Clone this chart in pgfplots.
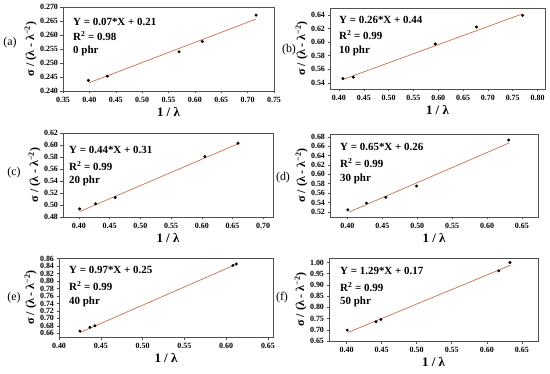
\documentclass[border=0pt]{standalone}
\usepackage{fontspec}
\setmainfont{Liberation Serif}
\usepackage{pgfplots}
\pgfplotsset{compat=1.18}
\definecolor{fitc}{RGB}{198,112,78}
\definecolor{axc}{RGB}{80,80,80}
\pgfplotsset{panel/.style={
 scale only axis, anchor=south west, enlargelimits=false,
 axis line style={axc, line width=0.6pt},
 tick align=outside, xtick pos=bottom, ytick pos=left,
 major tick length=2.5bp, tick style={axc,line width=0.5pt},
 /pgf/number format/assume math mode=true,
 tick label style={font=\fontsize{8}{9}\selectfont\bfseries},
 xticklabel style={/pgf/number format/fixed,/pgf/number format/fixed zerofill,/pgf/number format/precision=2},
 yticklabel style={/pgf/number format/fixed,/pgf/number format/fixed zerofill,/pgf/number format/precision=2, xshift=1bp},
 xlabel={1 / λ},
 ylabel={σ / (λ - λ\textsuperscript{−2})},
 xlabel style={font=\fontsize{13}{14}\selectfont\bfseries, yshift=2bp},
 ylabel style={font=\fontsize{12}{13}\selectfont\bfseries, yshift=-3.5bp},
}}
\newcommand{\annf}{\fontsize{11}{12}\selectfont\bfseries}
\newcommand{\labf}{\fontsize{12}{13}\selectfont}
\begin{document}
\begin{tikzpicture}
\path[use as bounding box] (0,0) rectangle (550bp,374bp);
% (a)
\begin{axis}[panel, at={(63bp,283bp)}, width=211bp, height=84bp,
 xmin=0.35, xmax=0.75, ymin=0.240, ymax=0.270,
 xtick={0.35,0.40,0.45,0.50,0.55,0.60,0.65,0.70,0.75},
 ytick={0.240,0.245,0.250,0.255,0.260,0.265,0.270},
 yticklabel style={/pgf/number format/precision=3}]
\addplot[fitc, line width=0.7pt] coordinates {(0.399,0.2429) (0.716,0.2657)};
\addplot[only marks, mark=*, mark size=1.3pt, black] coordinates {(0.398,0.2438) (0.434,0.2453) (0.570,0.2540) (0.614,0.2577) (0.716,0.2671)};
\end{axis}
% (b)
\begin{axis}[panel, at={(330bp,285bp)}, width=215bp, height=81bp,
 xmin=0.382, xmax=0.815, ymin=0.531, ymax=0.650,
 xtick={0.40,0.45,0.50,0.55,0.60,0.65,0.70,0.75,0.80},
 ytick={0.54,0.56,0.58,0.60,0.62,0.64}]
\addplot[fitc, line width=0.7pt] coordinates {(0.408,0.5449) (0.770,0.6415)};
\addplot[only marks, mark=*, mark size=1.3pt, black] coordinates {(0.408,0.5463) (0.429,0.5483) (0.594,0.5971) (0.677,0.6220) (0.770,0.6390)};
\end{axis}
% (c)
\begin{axis}[panel, at={(63bp,157bp)}, width=210bp, height=84bp,
 xmin=0.374, xmax=0.716, ymin=0.48, ymax=0.62,
 xtick={0.40,0.45,0.50,0.55,0.60,0.65,0.70},
 ytick={0.48,0.50,0.52,0.54,0.56,0.58,0.60,0.62}]
\addplot[fitc, line width=0.7pt] coordinates {(0.401,0.4890) (0.659,0.6020)};
\addplot[only marks, mark=*, mark size=1.3pt, black] coordinates {(0.401,0.4935) (0.427,0.5020) (0.459,0.5125) (0.605,0.5808) (0.659,0.6030)};
\end{axis}
% (d)
\begin{axis}[panel, at={(330bp,157bp)}, width=208bp, height=83bp,
 xmin=0.375, xmax=0.673, ymin=0.509, ymax=0.686,
 xtick={0.40,0.45,0.50,0.55,0.60,0.65},
 ytick={0.52,0.54,0.56,0.58,0.60,0.62,0.64,0.66,0.68}]
\addplot[fitc, line width=0.7pt] coordinates {(0.402,0.5193) (0.632,0.6671)};
\addplot[only marks, mark=*, mark size=1.3pt, black] coordinates {(0.4005,0.5243) (0.4273,0.5386) (0.455,0.5510) (0.499,0.5750) (0.631,0.6730)};
\end{axis}
% (e)
\begin{axis}[panel, at={(59bp,37bp)}, width=214bp, height=79bp,
 xmin=0.40, xmax=0.656, ymin=0.65, ymax=0.862,
 xtick={0.40,0.45,0.50,0.55,0.60,0.65},
 ytick={0.66,0.68,0.70,0.72,0.74,0.76,0.78,0.80,0.82,0.84,0.86}]
\addplot[fitc, line width=0.7pt] coordinates {(0.425,0.662) (0.612,0.845)};
\addplot[only marks, mark=*, mark size=1.3pt, black] coordinates {(0.425,0.666) (0.437,0.676) (0.443,0.680) (0.608,0.842) (0.612,0.846)};
\end{axis}
% (f)
\begin{axis}[panel, at={(329bp,33bp)}, width=209bp, height=83bp,
 xmin=0.375, xmax=0.673, ymin=0.65, ymax=1.02,
 xtick={0.40,0.45,0.50,0.55,0.60,0.65},
 ytick={0.65,0.70,0.75,0.80,0.85,0.90,0.95,1.00}]
\addplot[fitc, line width=0.7pt] coordinates {(0.402,0.688) (0.634,0.988)};
\addplot[only marks, mark=*, mark size=1.3pt, black] coordinates {(0.401,0.6985) (0.442,0.7357) (0.449,0.746) (0.617,0.9625) (0.633,1.000)};
\end{axis}
% annotations
\begin{scope}[every node/.style={anchor=west, inner sep=0pt, font=\annf}]
\node at (73bp,352bp) {Y = 0.07*X + 0.21};
\node at (73bp,338bp) {R\textsuperscript{2} = 0.98};
\node at (73bp,323bp) {0 phr};
\node at (339bp,354bp) {Y = 0.26*X + 0.44};
\node at (339bp,339bp) {R\textsuperscript{2} = 0.99};
\node at (339bp,323bp) {10 phr};
\node at (69bp,224bp) {Y = 0.44*X + 0.31};
\node at (69bp,208bp) {R\textsuperscript{2} = 0.99};
\node at (69bp,193bp) {20 phr};
\node at (340bp,227bp) {Y = 0.65*X + 0.26};
\node at (340bp,211bp) {R\textsuperscript{2} = 0.99};
\node at (340bp,195bp) {30 phr};
\node at (69bp,104bp) {Y = 0.97*X + 0.25};
\node at (69bp,88bp) {R\textsuperscript{2} = 0.99};
\node at (69bp,72bp) {40 phr};
\node at (340bp,103bp) {Y = 1.29*X + 0.17};
\node at (340bp,87bp) {R\textsuperscript{2} = 0.99};
\node at (340bp,72bp) {50 phr};
\end{scope}
\begin{scope}[every node/.style={inner sep=0pt, font=\labf}]
\node at (10bp,331bp) {(a)};
\node at (289bp,324bp) {(b)};
\node at (14bp,201bp) {(c)};
\node at (283bp,196bp) {(d)};
\node at (14bp,76bp) {(e)};
\node at (282bp,76bp) {(f)};
\end{scope}
\end{tikzpicture}
\end{document}
